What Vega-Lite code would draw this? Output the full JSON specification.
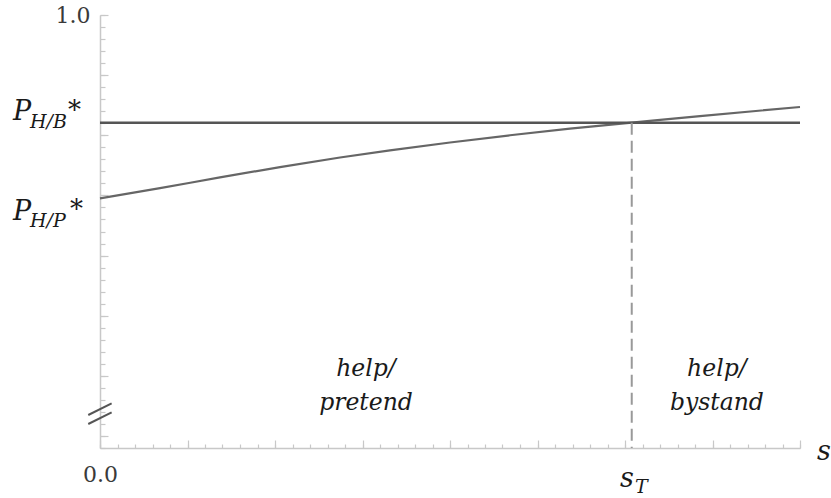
{
  "$schema": "https://vega.github.io/schema/vega-lite/v6.json",
  "width": 700,
  "height": 433,
  "autosize": {"type": "none"},
  "padding": {"left": 100, "top": 15, "right": 31, "bottom": 50},
  "background": "white",
  "config": {
    "view": {"stroke": null},
    "axis": {
      "grid": false,
      "domainColor": "#c8c8c8",
      "tickColor": "#c8c8c8",
      "domainWidth": 1.5,
      "tickWidth": 1.2,
      "labelFont": "DejaVu Serif",
      "labelFontSize": 22,
      "labelColor": "#3a3a3a",
      "labelFlush": false,
      "title": null
    }
  },
  "datasets": {
    "curve": [
      {"s": 0.0, "p": 0.695},
      {"s": 0.686, "p": 0.712},
      {"s": 1.371, "p": 0.73},
      {"s": 2.057, "p": 0.747},
      {"s": 2.743, "p": 0.763},
      {"s": 3.314, "p": 0.775},
      {"s": 4.0, "p": 0.788},
      {"s": 4.686, "p": 0.8},
      {"s": 5.371, "p": 0.811},
      {"s": 6.077, "p": 0.821},
      {"s": 6.857, "p": 0.832},
      {"s": 8.0, "p": 0.847}
    ],
    "flat": [
      {"s": 0.0, "p": 0.821},
      {"s": 8.0, "p": 0.821}
    ],
    "threshold": [
      {"s": 6.077, "lo": 0.28, "hi": 0.821}
    ],
    "breakmarks": [
      {"s1": -0.134, "s2": 0.133, "p1": 0.3349, "p2": 0.3543},
      {"s1": -0.134, "s2": 0.133, "p1": 0.3199, "p2": 0.3394}
    ],
    "symbols": [
      {"t": "P", "s": -0.994, "p": 0.8254},
      {"t": "P", "s": -0.994, "p": 0.6591},
      {"t": "s", "s": 5.943, "p": 0.2152},
      {"t": "s", "s": 8.194, "p": 0.26}
    ],
    "subscripts": [
      {"t": "H/B", "s": -0.8, "p": 0.8121},
      {"t": "H/P", "s": -0.8, "p": 0.6475},
      {"t": "T", "s": 6.114, "p": 0.2052}
    ],
    "stars": [
      {"t": "*", "s": -0.366, "p": 0.8271},
      {"t": "*", "s": -0.343, "p": 0.6625}
    ],
    "regions": [
      {"t": "help/", "s": 3.04, "p": 0.3997},
      {"t": "pretend", "s": 3.04, "p": 0.3432},
      {"t": "help/", "s": 7.05, "p": 0.3997},
      {"t": "bystand", "s": 7.05, "p": 0.3432}
    ]
  },
  "layer": [
    {
      "data": {"name": "curve"},
      "mark": {"type": "line", "interpolate": "monotone", "stroke": "#666", "strokeWidth": 2.2},
      "encoding": {
        "x": {
          "field": "s", "type": "quantitative",
          "scale": {"domain": [0, 8], "nice": false, "zero": false},
          "axis": {
            "orient": "bottom",
            "values": [0,0.2,0.4,0.6,0.8,1,1.2,1.4,1.6,1.8,2,2.2,2.4,2.6,2.8,3,3.2,3.4,3.6,3.8,4,4.2,4.4,4.6,4.8,5,5.2,5.4,5.6,5.8,6,6.2,6.4,6.6,6.8,7,7.2,7.4,7.6,7.8,8],
            "tickSize": -4,
            "labels": false
          }
        },
        "y": {
          "field": "p", "type": "quantitative",
          "scale": {"domain": [0.28, 1.0], "nice": false, "zero": false},
          "axis": {
            "orient": "left",
            "values": [0.28,0.3,0.32,0.34,0.36,0.38,0.4,0.42,0.44,0.46,0.48,0.5,0.52,0.54,0.56,0.58,0.6,0.62,0.64,0.66,0.68,0.7,0.72,0.74,0.76,0.78,0.8,0.82,0.84,0.86,0.88,0.9,0.92,0.94,0.96,0.98,1.0],
            "tickSize": -5,
            "labels": false
          }
        }
      }
    },
    {
      "data": {"name": "flat"},
      "mark": {"type": "line", "stroke": "#555", "strokeWidth": 2.5},
      "encoding": {
        "x": {
          "field": "s", "type": "quantitative",
          "axis": {
            "orient": "bottom",
            "values": [0,1,2,3,4,5,6,7,8],
            "tickSize": -8,
            "domain": false,
            "labelFontSize": 22,
            "labelFlush": false,
            "labelAlign": "center",
            "labelPadding": 24,
            "labelExpr": "datum.value == 0 ? '0.0' : ''"
          }
        },
        "y": {
          "field": "p", "type": "quantitative",
          "axis": {
            "orient": "left",
            "values": [0.3,0.4,0.5,0.6,0.7,0.8,0.9,1.0],
            "tickSize": -8,
            "domain": false,
            "labelFontSize": 22,
            "labelFlush": false,
            "labelBaseline": "middle",
            "labelPadding": 18,
            "labelExpr": "datum.value == 1 ? '1.0' : ''"
          }
        }
      }
    },
    {
      "data": {"name": "threshold"},
      "mark": {"type": "rule", "stroke": "#999", "strokeWidth": 2, "strokeDash": [12, 6]},
      "encoding": {
        "x": {"field": "s", "type": "quantitative", "axis": null},
        "y": {"field": "hi", "type": "quantitative", "axis": null},
        "y2": {"field": "lo"}
      }
    },
    {
      "data": {"name": "breakmarks"},
      "mark": {"type": "rule", "stroke": "#555", "strokeWidth": 2},
      "encoding": {
        "x": {"field": "s1", "type": "quantitative", "axis": null},
        "x2": {"field": "s2"},
        "y": {"field": "p1", "type": "quantitative", "axis": null},
        "y2": {"field": "p2"}
      }
    },
    {
      "data": {"name": "symbols"},
      "mark": {"type": "text", "font": "DejaVu Serif", "fontStyle": "italic", "fontSize": 27, "align": "left", "baseline": "alphabetic", "color": "#1a1a1a"},
      "encoding": {
        "x": {"field": "s", "type": "quantitative", "axis": null},
        "y": {"field": "p", "type": "quantitative", "axis": null},
        "text": {"field": "t"}
      }
    },
    {
      "data": {"name": "subscripts"},
      "mark": {"type": "text", "font": "DejaVu Serif", "fontStyle": "italic", "fontSize": 19, "align": "left", "baseline": "alphabetic", "color": "#1a1a1a"},
      "encoding": {
        "x": {"field": "s", "type": "quantitative", "axis": null},
        "y": {"field": "p", "type": "quantitative", "axis": null},
        "text": {"field": "t"}
      }
    },
    {
      "data": {"name": "stars"},
      "mark": {"type": "text", "font": "DejaVu Serif", "fontSize": 26, "align": "left", "baseline": "alphabetic", "color": "#1a1a1a"},
      "encoding": {
        "x": {"field": "s", "type": "quantitative", "axis": null},
        "y": {"field": "p", "type": "quantitative", "axis": null},
        "text": {"field": "t"}
      }
    },
    {
      "data": {"name": "regions"},
      "mark": {"type": "text", "font": "DejaVu Serif", "fontStyle": "italic", "fontSize": 23.5, "align": "center", "baseline": "alphabetic", "color": "#1a1a1a"},
      "encoding": {
        "x": {"field": "s", "type": "quantitative", "axis": null},
        "y": {"field": "p", "type": "quantitative", "axis": null},
        "text": {"field": "t"}
      }
    }
  ],
  "resolve": {"axis": {"x": "independent", "y": "independent"}}
}
